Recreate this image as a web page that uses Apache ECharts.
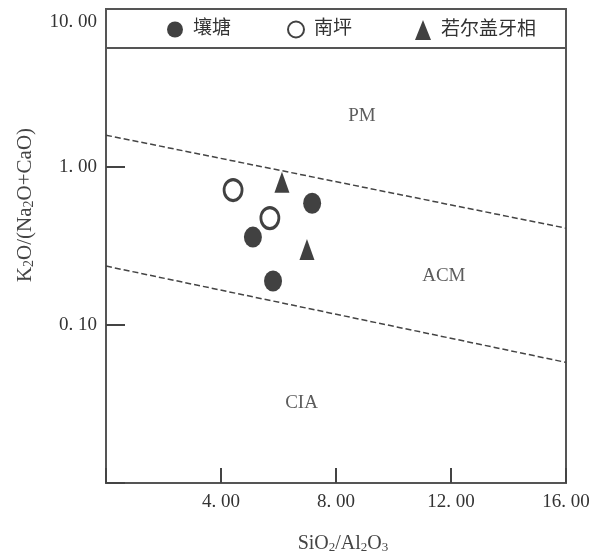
<!DOCTYPE html>
<html lang="zh-CN">
<head>
    <meta charset="UTF-8">
    <title>K2O/(Na2O+CaO) - SiO2/Al2O3</title>
    <script src="https://cdn.jsdelivr.net/npm/echarts@6/dist/echarts.min.js"></script>
    <style>
        html, body { margin: 0; padding: 0; background: #fff; }
        #main { width: 607px; height: 551px; }
    </style>
</head>
<body>
<div id="main"></div>
<script>
    // 数据：SiO2/Al2O3 (x) 与 K2O/(Na2O+CaO) (y)
    const seriesNames = ['壤塘', '南坪', '若尔盖牙相'];
    const rangtangX = [7.17, 5.11, 5.81];
    const rangtangY = [0.59, 0.36, 0.19];
    const nanpingX = [4.42, 5.70];
    const nanpingY = [0.715, 0.475];
    const zoigeX = [6.12, 6.99];
    const zoigeY = [0.80, 0.30];

    // 分区界线（两端点）
    const lineX = [0, 16];
    const upperY = [1.59, 0.41];
    const lowerY = [0.236, 0.058];

    // 分区名称
    const regionNames = ['PM', 'ACM', 'CIA'];
    const regionX = [8.9, 11.75, 6.8];
    const regionY = [2.1, 0.205, 0.032];

    // 刻度标签
    const xTickValues = [0, 4, 8, 12, 16];
    const xTickLabels = ['', '4. 00', '8. 00', '12. 00', '16. 00'];
    const yTickExps = [-2, -1, 0, 1];
    const yTickLabels = ['', '0. 10', '1. 00', '10. 00'];

    const zip = (xs, ys) => xs.map((x, i) => [x, ys[i]]);
    const serif = "'Liberation Serif', 'Noto Sans CJK SC', serif";

    const chart = echarts.init(document.getElementById('main'));
    chart.setOption({
        animation: false,
        backgroundColor: '#fff',
        textStyle: { fontFamily: serif },
        grid: {
            left: 106, right: 41, top: 9, bottom: 68,
            outerBoundsMode: 'none',
            containLabel: false,
            show: true, borderColor: '#555', borderWidth: 2
        },
        legend: seriesNames.map((n, i) => ({
            data: [n],
            left: [167, 287, 415][i],
            top: 20,
            padding: 0,
            itemWidth: 16,
            itemHeight: 20,
            z: 6,
            textStyle: { fontFamily: serif, fontSize: 19, color: '#333', padding: [0, 0, 0, 5] }
        })),
        xAxis: {
            type: 'value',
            min: 0, max: 16, interval: 4,
            axisLine: { lineStyle: { color: '#555', width: 2 } },
            axisTick: { inside: true, length: 15, lineStyle: { color: '#444', width: 2 } },
            axisLabel: {
                margin: 10, fontSize: 19, color: '#333',
                formatter: v => xTickLabels[xTickValues.indexOf(Math.round(v))] || ''
            },
            splitLine: { show: false },
            name: 'SiO{s|2}/Al{s|2}O{s|3}',
            nameLocation: 'middle',
            nameGap: 50,
            nameTextStyle: {
                fontSize: 20, color: '#444', padding: [0, 0, 0, 14],
                rich: { s: { fontSize: 13, color: '#444', padding: [8, 0, 0, 0] } }
            }
        },
        yAxis: {
            type: 'log',
            logBase: 10,
            min: 0.01, max: 10,
            axisLine: { lineStyle: { color: '#555', width: 2 } },
            axisTick: { inside: true, length: 19, lineStyle: { color: '#444', width: 2 } },
            minorTick: { show: false },
            axisLabel: {
                margin: 9, fontSize: 19, color: '#333',
                formatter: v => {
                    const e = Math.round(Math.log10(v));
                    const t = yTickLabels[yTickExps.indexOf(e)] || '';
                    return e === 1 ? '{top|' + t + '}' : t;
                },
                rich: { top: { fontSize: 19, color: '#333', padding: [26, 0, 0, 0] } }
            },
            splitLine: { show: false }
        },
        graphic: [
            {
                type: 'rect', z: 3,
                shape: { x: 106, y: 9, width: 460, height: 39 },
                style: { fill: '#fff', stroke: '#555', lineWidth: 2 }
            },
            {
                type: 'text', z: 3,
                x: 25, y: 205, rotation: Math.PI / 2,
                style: {
                    text: 'K{s|2}O/(Na{s|2}O+CaO)',
                    font: "21px 'Liberation Serif', serif",
                    fill: '#444',
                    align: 'center', verticalAlign: 'middle',
                    rich: { s: { fontSize: 14, fill: '#444', fontFamily: serif, padding: [8, 0, 0, 0] } }
                }
            }
        ],
        series: [
            {
                name: '壤塘', type: 'scatter', z: 4,
                symbol: 'circle', symbolSize: [18, 21],
                itemStyle: { color: '#111' },
                data: zip(rangtangX, rangtangY)
            },
            {
                name: '南坪', type: 'scatter', z: 4,
                symbol: 'circle', symbolSize: [18, 21],
                itemStyle: { color: '#fff', borderColor: '#111', borderWidth: 3 },
                data: zip(nanpingX, nanpingY)
            },
            {
                name: '若尔盖牙相', type: 'scatter', z: 4,
                symbol: 'triangle', symbolSize: [15, 21],
                itemStyle: { color: '#111' },
                data: zip(zoigeX, zoigeY)
            },
            {
                type: 'line', silent: true, symbol: 'none',
                lineStyle: { color: '#444', width: 1.5, type: [6, 3] },
                data: zip(lineX, upperY)
            },
            {
                type: 'line', silent: true, symbol: 'none',
                lineStyle: { color: '#444', width: 1.5, type: [6, 3] },
                data: zip(lineX, lowerY)
            },
            {
                type: 'scatter', silent: true, symbolSize: 0,
                label: {
                    show: true, position: 'inside',
                    fontSize: 19, color: '#333', fontFamily: serif,
                    formatter: p => p.name
                },
                data: regionNames.map((n, i) => ({ name: n, value: [regionX[i], regionY[i]] }))
            }
        ]
    });
</script>
</body>
</html>
